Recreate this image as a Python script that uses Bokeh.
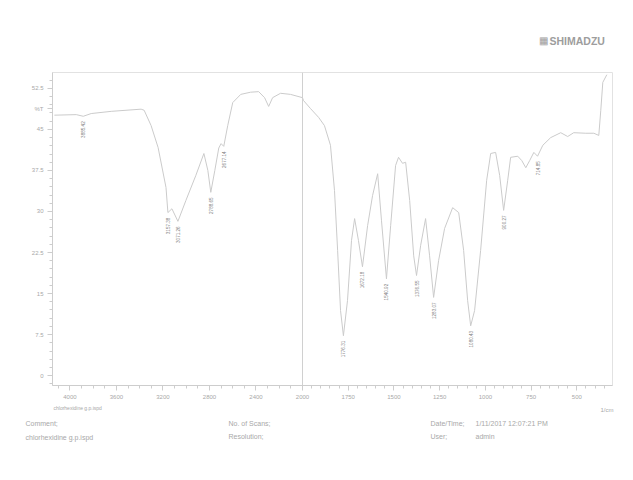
import math

from bokeh.core.properties import value
from bokeh.embed import file_html
from bokeh.layouts import column
from bokeh.models import CustomJSTickFormatter, FixedTicker, Range1d, Span
from bokeh.plotting import figure
from bokeh.resources import INLINE

# ---- spectrum, 4150-2000 1/cm section ----
wn_high = [4134, 3945, 3885.42, 3817, 3645, 3388, 3362, 3302, 3242, 3174,
           3157.38, 3123, 3071.26, 3003, 2917, 2848, 2814, 2788.65, 2754, 2720,
           2700, 2677.14, 2643, 2600, 2531, 2446, 2377, 2326, 2291, 2257,
           2189, 2103, 2000]
t_high = [47.6, 47.7, 47.4, 47.9, 48.3, 48.7, 48.5, 45.7, 41.7, 34.4,
          29.8, 30.5, 28.2, 32.0, 36.6, 40.6, 37.5, 33.5, 37.5, 41.6,
          42.4, 41.9, 45.7, 49.9, 51.4, 51.8, 51.9, 50.8, 49.2, 50.8,
          51.6, 51.4, 50.8]

# ---- spectrum, 2000-330 1/cm section ----
wn_low = [2000, 1995, 1956, 1912, 1880, 1847, 1825, 1808, 1792, 1776.31,
          1754, 1732, 1715, 1694, 1672.18, 1644, 1617, 1589, 1568, 1540.92,
          1518, 1491, 1475, 1453, 1436, 1414, 1392, 1376.55, 1354, 1327,
          1305, 1283.07, 1256, 1223, 1179, 1146, 1119, 1097, 1080.43, 1059,
          1026, 993, 971, 944, 922, 900.27, 878, 862, 823, 801,
          779, 758, 735, 714.85, 686, 643, 588, 550, 517, 451,
          407, 380, 369, 358, 336]
t_low = [50.8, 50.3, 48.8, 47.2, 45.7, 42.1, 33.8, 22.9, 11.9, 7.3,
         13.7, 24.7, 28.7, 24.7, 19.9, 27.4, 32.9, 36.9, 28.3, 17.7,
         27.4, 38.4, 39.9, 38.8, 39.0, 32.0, 21.9, 18.3, 23.8, 28.7,
         21.9, 14.3, 21.0, 26.9, 30.7, 29.8, 22.9, 13.7, 9.1, 11.9,
         22.9, 35.7, 40.6, 40.8, 36.6, 30.2, 35.7, 39.9, 40.1, 39.3,
         38.0, 39.3, 40.8, 40.1, 42.1, 43.5, 44.4, 43.7, 44.4, 44.3,
         44.3, 43.9, 48.5, 53.6, 55.0]

# ---- picked peaks ----
peaks_high = [3885.42, 3157.38, 3071.26, 2788.65, 2677.14]
peaks_high_t = [47.4, 29.8, 28.2, 33.5, 41.9]
peaks_low = [1776.31, 1672.18, 1540.92, 1376.55, 1283.07, 1080.43, 900.27, 714.85]
peaks_low_t = [7.3, 19.9, 17.7, 18.3, 14.3, 9.1, 30.2, 40.1]

# ---- axis ticks ----
x_ticks_high = [4000, 3600, 3200, 2800, 2400]
x_ticks_low = [2000, 1750, 1500, 1250, 1000, 750, 500]
y_ticks = [0, 7.5, 15, 22.5, 30, 37.5, 45, 52.5]
y_unit_tick = 48.75          # the "%T" caption sits in the tick column

file_name = "chlorhexidine g.p.ispd"
date_time = "1/11/2017 12:07:21 PM"
user_name = "admin"

FONT = "Liberation Sans"
CURVE = "#cbcbcb"
AXIS = "#cdcdcd"
TEXT = "#a8a8a8"
W = 633

# the frame is split at 2000 1/cm: 250 of 560 px for the high section
split = 250 / 560
hi_start, hi_end = 4150, 2000
lo_start, lo_end = 2000, 305
x_hi = Range1d(hi_start, hi_start - (hi_start - hi_end) / split)
x_lo = Range1d(lo_start + (lo_start - lo_end) * split / (1 - split), lo_end)


def lo_to_hi(v):
    frac = (x_lo.start - v) / (x_lo.start - x_lo.end)
    return x_hi.start + frac * (x_hi.end - x_hi.start)


def text_strip(height):
    """A plain strip of page whose coordinates are pixels from its top-left."""
    f = figure(width=W, height=height, x_range=Range1d(0, W), y_range=Range1d(height, 0),
               x_axis_type=None, y_axis_type=None, output_backend="svg",
               toolbar_location=None, min_border=0, frame_align=False)
    f.outline_line_color = None
    f.grid.visible = False
    f.background_fill_color = "white"
    f.border_fill_color = "white"
    return f


def write(f, x, y, text, size="7px", color=TEXT, align="left", style="normal"):
    f.text([x], [y], text=[text], text_font=value(FONT), text_font_size=size,
           text_color=color, text_align=align, text_baseline="middle",
           text_font_style=style)


# ---------------- header ----------------
head = text_strip(60)
write(head, 538, 40, "\u25a6", size="10px", color="#9d9d9d")
write(head, 549, 40, "SHIMADZU", size="10.5px", color="#9d9d9d", style="bold")

# ---------------- spectrum ----------------
p = figure(width=W, height=345, x_range=x_hi, y_range=Range1d(-1.8, 55.4),
           output_backend="svg", toolbar_location=None, frame_align=False,
           min_border_left=52, min_border_right=21,
           min_border_top=12, min_border_bottom=20)
p.extra_x_ranges = {"low": x_lo}
p.background_fill_color = "white"
p.border_fill_color = "white"
p.outline_line_color = "#e2e2e2"
p.grid.visible = False

# combined wavenumber axis
tick_pos = x_ticks_high + [lo_to_hi(v) for v in x_ticks_low]
tick_lab = [str(v) for v in x_ticks_high] + [str(v) for v in x_ticks_low]
minor_pos = [v for v in range(4100, 2000, -100)] + \
            [lo_to_hi(v) for v in range(2000, 300, -50)]
xa = p.xaxis[0]
xa.ticker = FixedTicker(ticks=tick_pos, minor_ticks=minor_pos)
xa.formatter = CustomJSTickFormatter(args=dict(pos=tick_pos, lab=tick_lab), code="""
let best = 0;
for (let i = 0; i < pos.length; i++) {
  if (Math.abs(pos[i] - tick) < Math.abs(pos[best] - tick)) best = i;
}
return lab[best];
""")

ya = p.yaxis[0]
ya.ticker = FixedTicker(ticks=y_ticks + [y_unit_tick],
                        minor_ticks=[i * 1.5 for i in range(-1, 37)])
ya.formatter = CustomJSTickFormatter(args=dict(unit=y_unit_tick), code="""
if (Math.abs(tick - unit) < 1e-6) return "%T";
return (tick % 1) ? tick.toFixed(1) : tick.toFixed(0);
""")

for ax in (xa, ya):
    ax.axis_line_color = AXIS
    ax.major_tick_line_color = AXIS
    ax.minor_tick_line_color = AXIS
    ax.major_tick_out = 5
    ax.major_tick_in = 0
    ax.minor_tick_out = 3
    ax.minor_tick_in = 0
    ax.major_label_text_color = TEXT
    ax.major_label_text_font = FONT
    ax.major_label_text_font_size = "6px"
    ax.major_label_standoff = 4

# divider at 2000 1/cm
p.add_layout(Span(location=2000, dimension="height", line_color="#d0d0d0", line_width=1))

# spectrum trace
p.line(wn_high, t_high, line_color=CURVE, line_width=1)
p.line(wn_low, t_low, line_color=CURVE, line_width=1, x_range_name="low")

# peak labels, written vertically beneath each band
peak_style = dict(angle=math.pi / 2, text_align="right", text_baseline="middle",
                  y_offset=5, text_font_size="4.6px", text_color="#808080",
                  text_font=value(FONT))
p.text(peaks_high, peaks_high_t, text=[f"{v:.2f}" for v in peaks_high], **peak_style)
p.text(peaks_low, peaks_low_t, text=[f"{v:.2f}" for v in peaks_low],
       x_range_name="low", **peak_style)

# ---------------- footer ----------------
foot = text_strip(75)
write(foot, 600, 4, "1/cm", size="6px")
write(foot, 53, 2, file_name, size="5px")
write(foot, 25, 18, "Comment;")
write(foot, 25, 32, file_name)
write(foot, 228, 18, "No. of Scans;")
write(foot, 228, 31, "Resolution;")
write(foot, 430, 18, "Date/Time;")
write(foot, 475, 18, date_time)
write(foot, 430, 31, "User;")
write(foot, 475, 31, user_name)

layout = column(head, p, foot, spacing=0)
open("out.html", "w").write(file_html(layout, INLINE))
